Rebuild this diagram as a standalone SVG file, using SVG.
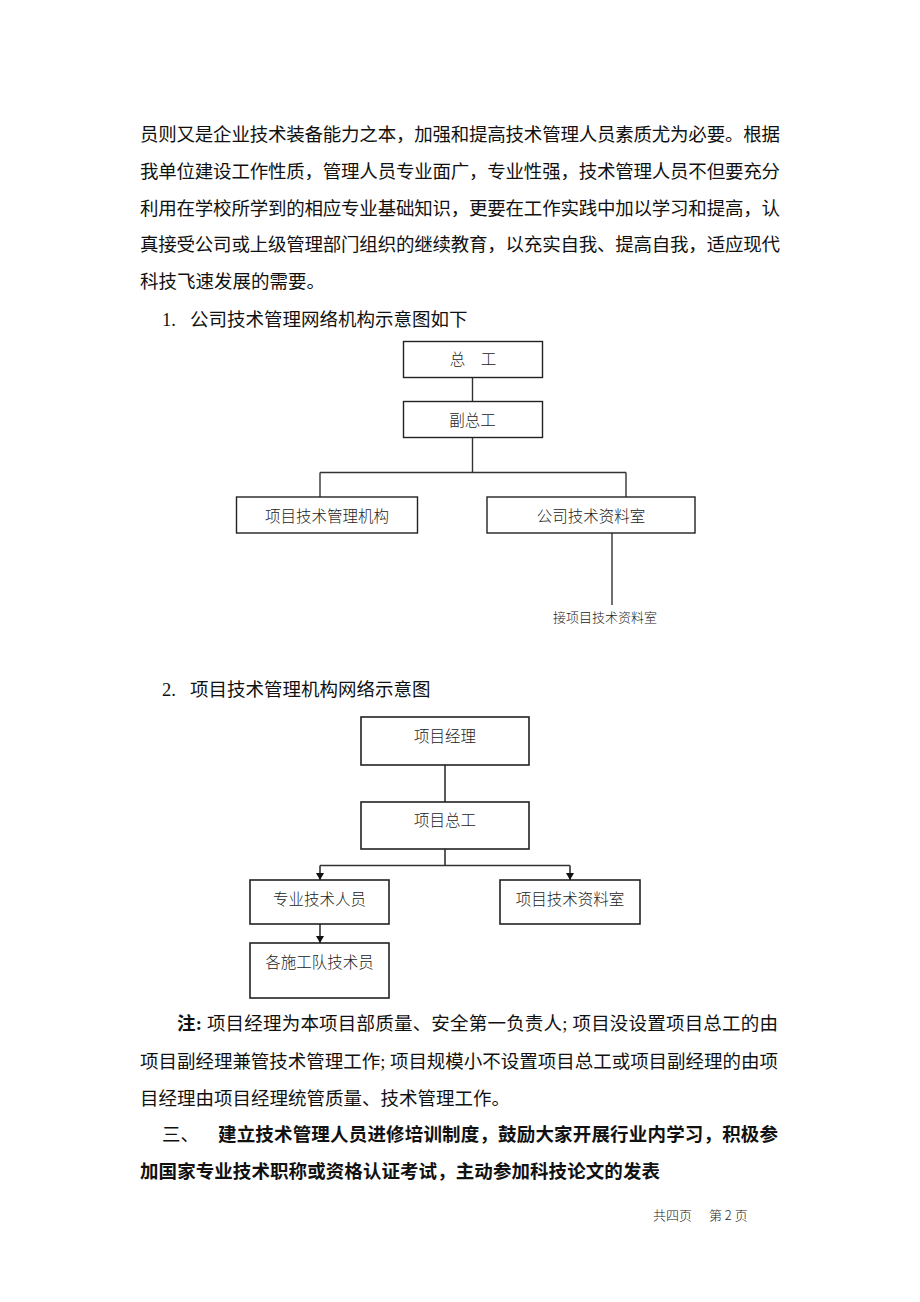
<svg xmlns="http://www.w3.org/2000/svg" width="920" height="1302" viewBox="0 0 920 1302">
<style>
.body{font-family:"Liberation Serif","Noto Sans CJK SC",serif;font-size:18.5px;fill:#111}
.bold{font-weight:bold}
.box{fill:#fff;stroke:#222;stroke-width:1.4}
.box2{fill:#fff;stroke:#222;stroke-width:1.6}
.lbl{font-family:"Noto Sans CJK SC",sans-serif;font-size:15.5px;fill:#222;text-anchor:middle;font-weight:300}
.small{font-family:"Noto Sans CJK SC",sans-serif;font-size:13px;fill:#222;font-weight:300}
.ln{fill:none;stroke:#333;stroke-width:1.4}
.ln2{fill:none;stroke:#333;stroke-width:1.6}
</style>
<defs>
<marker id="arr" markerUnits="userSpaceOnUse" markerWidth="9" markerHeight="8" refX="7" refY="4" orient="auto">
<path d="M0,0 L7,4 L0,8 Z" fill="#111"/>
</marker>
</defs>
<rect width="920" height="1302" fill="#fff"/>

<g id="text-top">
<text class="body" x="140" y="141" textLength="640" lengthAdjust="spacing">员则又是企业技术装备能力之本，加强和提高技术管理人员素质尤为必要。根据</text>
<text class="body" x="140" y="178" textLength="640" lengthAdjust="spacing">我单位建设工作性质，管理人员专业面广，专业性强，技术管理人员不但要充分</text>
<text class="body" x="140" y="215" textLength="640" lengthAdjust="spacing">利用在学校所学到的相应专业基础知识，更要在工作实践中加以学习和提高，认</text>
<text class="body" x="140" y="251" textLength="640" lengthAdjust="spacing">真接受公司或上级管理部门组织的继续教育，以充实自我、提高自我，适应现代</text>
<text class="body" x="140" y="288">科技飞速发展的需要。</text>
<text class="body" y="326"><tspan x="162">1.</tspan><tspan x="190">公司技术管理网络机构示意图如下</tspan></text>
</g>

<g id="connectors-1">
<line class="ln" x1="472.5" y1="377.5" x2="472.5" y2="401.5"/>
<line class="ln" x1="472.5" y1="437.5" x2="472.5" y2="472.5"/>
<line class="ln" x1="320" y1="472.5" x2="626" y2="472.5"/>
<line class="ln" x1="320" y1="472.5" x2="320" y2="497"/>
<line class="ln" x1="626" y1="472.5" x2="626" y2="497"/>
<line class="ln" x1="612" y1="533" x2="612" y2="605"/>
</g>

<g id="n-zonggong">
<rect class="box" x="403.5" y="341.5" width="139" height="36"/>
<text class="lbl" x="473" y="365">总　工</text>
</g>
<g id="n-fuzonggong">
<rect class="box" x="403.5" y="401.5" width="139" height="36"/>
<text class="lbl" x="472.5" y="426">副总工</text>
</g>
<g id="n-xiangmujigou">
<rect class="box" x="236.5" y="497" width="181" height="36"/>
<text class="lbl" x="327" y="522">项目技术管理机构</text>
</g>
<g id="n-gongsiziliao">
<rect class="box" x="487" y="497" width="208" height="36"/>
<text class="lbl" x="591" y="522">公司技术资料室</text>
</g>
<g id="n-jie">
<text class="small" x="605" y="622" text-anchor="middle">接项目技术资料室</text>
</g>

<g id="text-mid">
<text class="body" y="696"><tspan x="162">2.</tspan><tspan x="190">项目技术管理机构网络示意图</tspan></text>
</g>

<g id="connectors-2">
<line class="ln2" x1="445" y1="765" x2="445" y2="802"/>
<line class="ln2" x1="445" y1="849" x2="445" y2="865.5"/>
<line class="ln2" x1="320" y1="865.5" x2="570" y2="865.5"/>
<line class="ln2" x1="320" y1="865.5" x2="320" y2="880" marker-end="url(#arr)"/>
<line class="ln2" x1="570" y1="865.5" x2="570" y2="880" marker-end="url(#arr)"/>
<line class="ln2" x1="320" y1="924" x2="320" y2="943" marker-end="url(#arr)"/>
</g>

<g id="n-jingli">
<rect class="box2" x="361" y="717" width="168" height="48"/>
<text class="lbl" x="445" y="742">项目经理</text>
</g>
<g id="n-xmzonggong">
<rect class="box2" x="361" y="802" width="168" height="47"/>
<text class="lbl" x="445" y="826">项目总工</text>
</g>
<g id="n-zhuanye">
<rect class="box2" x="250" y="880" width="139" height="44"/>
<text class="lbl" x="319.5" y="905">专业技术人员</text>
</g>
<g id="n-xmziliao">
<rect class="box2" x="500" y="880" width="140" height="44"/>
<text class="lbl" x="570" y="905">项目技术资料室</text>
</g>
<g id="n-shigongdui">
<rect class="box2" x="250" y="943" width="139" height="55"/>
<text class="lbl" x="319.5" y="968">各施工队技术员</text>
</g>

<g id="text-bottom">
<text class="body" x="177" y="1030" textLength="601" lengthAdjust="spacing"><tspan class="bold">注:</tspan> 项目经理为本项目部质量、安全第一负责人; 项目没设置项目总工的由</text>
<text class="body" x="140" y="1068" textLength="638" lengthAdjust="spacing">项目副经理兼管技术管理工作; 项目规模小不设置项目总工或项目副经理的由项</text>
<text class="body" x="140" y="1105">目经理由项目经理统管质量、技术管理工作。</text>
<text class="body" x="162" y="1141">三、</text>
<text class="body bold" x="218" y="1141" textLength="560" lengthAdjust="spacing">建立技术管理人员进修培训制度，鼓励大家开展行业内学习，积极参</text>
<text class="body bold" x="140" y="1178" textLength="520" lengthAdjust="spacing">加国家专业技术职称或资格认证考试，主动参加科技论文的发表</text>
<text class="small" y="1220"><tspan x="653">共四页</tspan><tspan x="709">第 2 页</tspan></text>
</g>
</svg>
